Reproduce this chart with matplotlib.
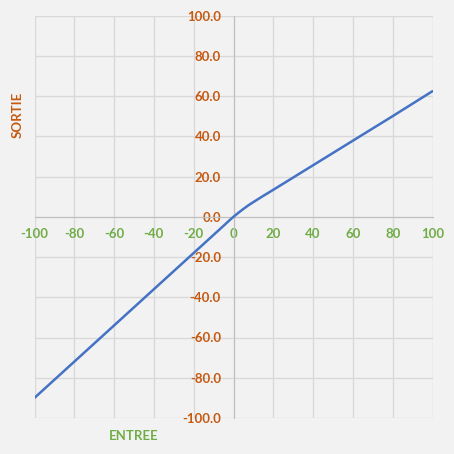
import matplotlib
matplotlib.use("Agg")
import matplotlib.pyplot as plt
import numpy as np

x_vals = [-100, -80, -60, -40, -20, -10, -5, -2.5, 0, 2.5, 5, 7.5, 10, 15, 20, 40, 60, 80, 100]
y_vals = [-90, -72, -54, -36, -18, -9, -4.5, -2.2, 0, 2.0, 3.9, 5.7, 7.3, 10.4, 13.4, 25.6, 37.8, 50.0, 62.4]
x_ticks = [-100, -80, -60, -40, -20, 0, 20, 40, 60, 80, 100]
y_ticks = [-100, -80, -60, -40, -20, 0, 20, 40, 60, 80, 100]

bg = "#F2F2F2"
fig = plt.figure(figsize=(4.54, 4.54), dpi=100, facecolor=bg)
ax = fig.add_axes([34.5/454, 36/454, 398/454, 402.5/454])
ax.set_facecolor(bg)

ax.plot(x_vals, y_vals, color="#4472C4", lw=1.8, solid_capstyle="round",
        solid_joinstyle="round", zorder=3)

ax.set_xlim(-100, 100)
ax.set_ylim(-100, 100)
ax.set_xticks(x_ticks)
ax.set_yticks(y_ticks)
ax.set_xticklabels([str(v) for v in x_ticks])
ax.set_yticklabels([f"{v:.1f}" for v in y_ticks])
ax.grid(True, color="#D9D9D9", lw=1.0, zorder=0)
ax.set_axisbelow(True)

for s in ["top", "right"]:
    ax.spines[s].set_visible(False)
ax.spines["left"].set_position(("data", 0))
ax.spines["bottom"].set_position(("data", 0))
ax.spines["left"].set_color("#BFBFBF")
ax.spines["bottom"].set_color("#BFBFBF")
ax.spines["left"].set_zorder(2)
ax.spines["bottom"].set_zorder(2)

ax.tick_params(axis="both", length=0)
ax.tick_params(axis="y", pad=9, labelcolor="#C55A11", labelsize=9.5)
ax.tick_params(axis="x", pad=8, labelcolor="#70AD47", labelsize=9.5)
for lab in ax.get_xticklabels() + ax.get_yticklabels():
    lab.set_fontweight("bold")
    lab.set_fontfamily("Lato")

fig.text(18/454, 1-115/454, "SORTIE", rotation=90, color="#C55A11", fontsize=9.5,
         fontweight="bold", family="Lato", ha="center", va="center")
fig.text(134/454, 1-436/454, "ENTREE", color="#70AD47", fontsize=9.5,
         fontweight="bold", family="Lato", ha="center", va="center")

fig.savefig("out.png", dpi=100, facecolor=bg)
